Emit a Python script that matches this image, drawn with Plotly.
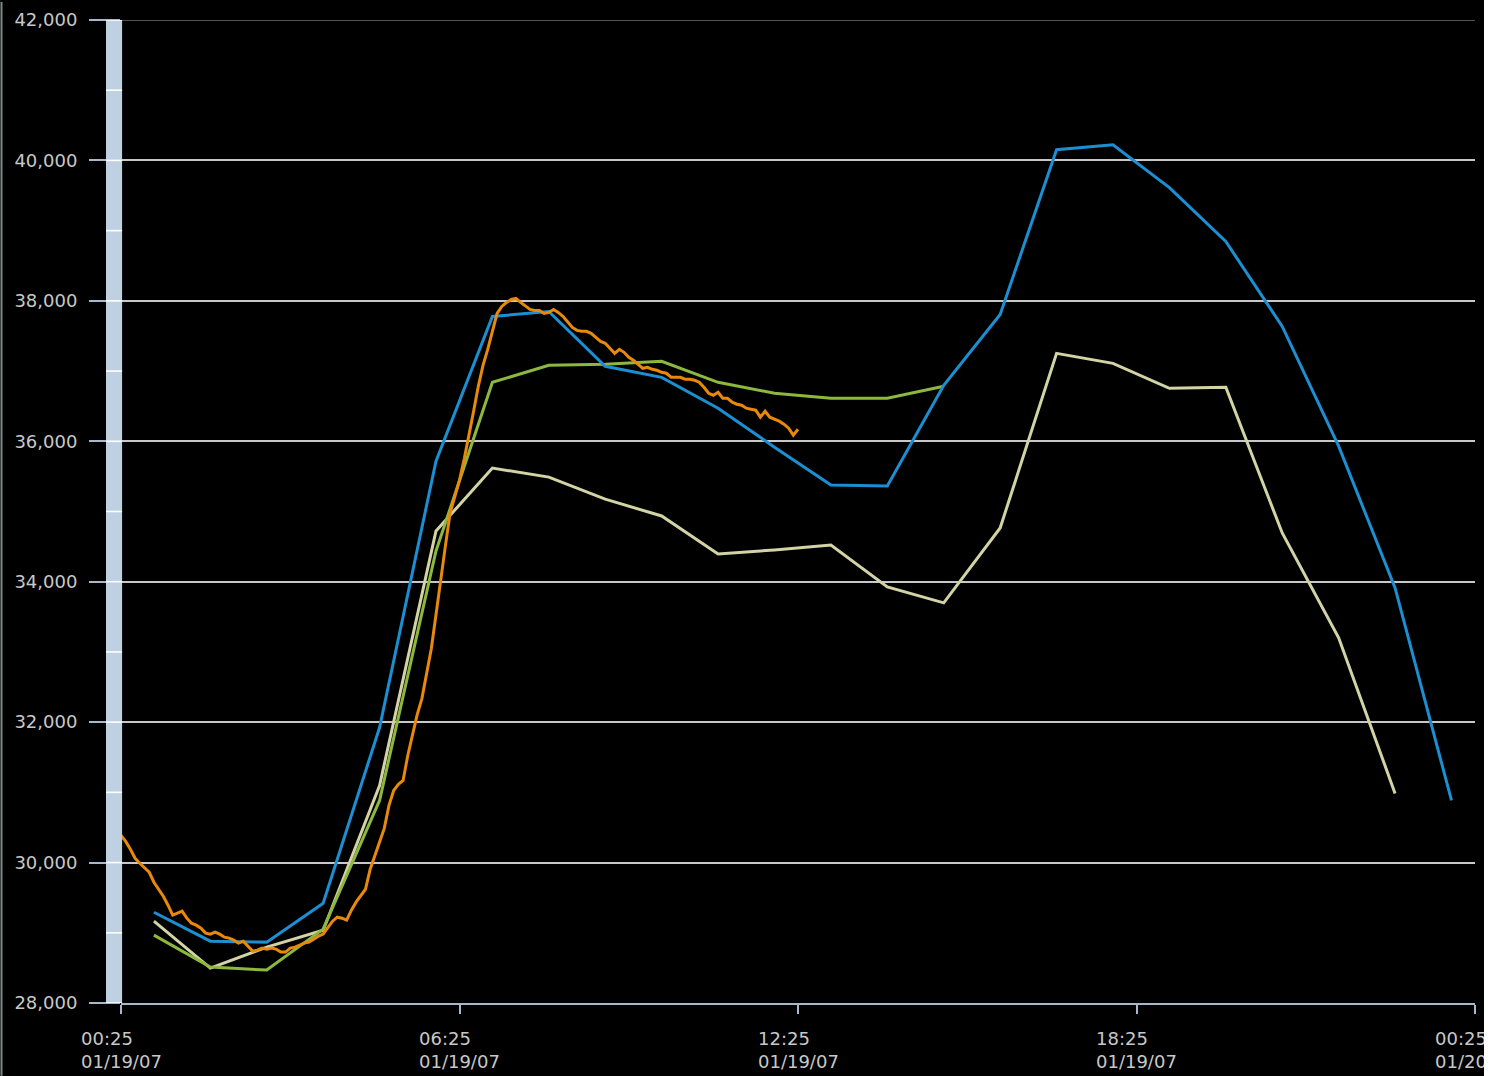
import plotly.graph_objects as go
import pandas as pd

# ---- data ----
blue_vals = [29293, 28881, 28867, 29421, 31923, 35718, 37778, 37849, 37068, 36911,
             36471, 35916, 35377, 35362, 36798, 37807, 40152, 40223, 39612, 38845,
             37636, 35930, 33912, 30885]
beige_vals = [29165, 28497, 28796, 29037, 31098, 34722, 35618, 35490, 35177, 34936,
              34396, 34453, 34523, 33927, 33699, 34765, 37252, 37110, 36755, 36769,
              34694, 33202, 30985]
green_vals = [28966, 28512, 28469, 29052, 30885, 34438, 36840, 37082, 37096, 37139,
              36840, 36684, 36613, 36613, 36783]
orange_vals = [30388, 30302, 30189, 30061, 29990, 29919, 29862, 29720, 29620, 29521,
               29393, 29251, 29279, 29308, 29208, 29137, 29109, 29066, 28995, 28981,
               29009, 28981, 28938, 28924, 28895, 28853, 28880, 28810, 28739, 28753,
               28782, 28767, 28782, 28767, 28725, 28725, 28782, 28796, 28824, 28853,
               28867, 28910, 28952, 28981, 29066, 29165, 29222, 29208, 29180, 29322,
               29436, 29535, 29620, 29905, 30089, 30274, 30487, 30814, 31027, 31113,
               31169, 31525, 31838, 32108, 32335, 32690, 33046, 33529, 34041, 34510,
               34979, 35220, 35448, 35746, 36073, 36428, 36784, 37082, 37310, 37565,
               37821, 37921, 37978, 38020, 38034, 37978, 37921, 37878, 37864, 37864,
               37821, 37835, 37878, 37835, 37779, 37693, 37622, 37580, 37566, 37566,
               37537, 37480, 37423, 37395, 37324, 37253, 37310, 37267, 37196, 37153,
               37096, 37039, 37054, 37025, 37011, 36983, 36969, 36912, 36912, 36912,
               36883, 36883, 36869, 36841, 36769, 36684, 36656, 36698, 36613, 36613,
               36556, 36528, 36514, 36471, 36457, 36443, 36343, 36428, 36343, 36315,
               36286, 36244, 36187, 36087, 36172]

hourly_start = "2007-01-19 01:00"
orange_start = "2007-01-19 00:25"
x_range = ["2007-01-19 00:25", "2007-01-20 00:25"]
x_tickvals = ["2007-01-19 00:25", "2007-01-19 06:25", "2007-01-19 12:25",
              "2007-01-19 18:25", "2007-01-20 00:25"]
x_ticktext = ["00:25<br>01/19/07", "06:25<br>01/19/07", "12:25<br>01/19/07",
              "18:25<br>01/19/07", "00:25<br>01/20/07"]
y_range = [28000, 42000]
y_major = list(range(28000, 42001, 2000))
y_minor = list(range(28000, 42001, 1000))

W, H = 1484, 1076
ML, MR, MT, MB = 121, 9, 18, 73
PW, PH = W - ML - MR, H - MT - MB
LW = 3

fig = go.Figure()

def hourly(n):
    return pd.date_range(hourly_start, periods=n, freq="h")

fig.add_trace(go.Scatter(x=hourly(len(beige_vals)), y=beige_vals, mode="lines",
                         line=dict(color="#d3d3a6", width=LW), showlegend=False))
fig.add_trace(go.Scatter(x=hourly(len(green_vals)), y=green_vals, mode="lines",
                         line=dict(color="#8db83e", width=LW), showlegend=False))
fig.add_trace(go.Scatter(x=hourly(len(blue_vals)), y=blue_vals, mode="lines",
                         line=dict(color="#1b8fd2", width=LW), showlegend=False))
fig.add_trace(go.Scatter(x=pd.date_range(orange_start, periods=len(orange_vals), freq="5min"),
                         y=orange_vals, mode="lines",
                         line=dict(color="#e8890a", width=LW), showlegend=False))

shapes = []
# light blue band at the left of the plot
shapes.append(dict(type="rect", xref="paper", yref="y", x0=-15 / PW, x1=0.0008,
                   y0=y_range[0], y1=y_range[1], fillcolor="#bed0e2",
                   line=dict(width=0), layer="above"))
for v in y_minor:
    shapes.append(dict(type="line", xref="paper", yref="y", x0=-15 / PW, x1=0.0008,
                       y0=v, y1=v, line=dict(color="#ffffff", width=1.6), layer="above"))
# darker top grid line
shapes.append(dict(type="line", xref="paper", yref="y", x0=0.0008, x1=1,
                   y0=y_range[1], y1=y_range[1], line=dict(color="#6e6e6e", width=1.6),
                   layer="below"))
# left frame line
shapes.append(dict(type="line", xref="paper", yref="paper", x0=-(ML - 1.5) / PW,
                   x1=-(ML - 1.5) / PW, y0=-MB / PH, y1=1 + MT / PH,
                   line=dict(color="#7d8888", width=2)))

annotations = []
for tv, tt in zip(x_tickvals, x_ticktext):
    annotations.append(dict(x=tv, xref="x", y=-23 / PH, yref="paper", text=tt,
                            showarrow=False, xanchor="center", yanchor="top",
                            align="left",
                            font=dict(family="DejaVu Sans", size=18, color="#c8c8c8")))

fig.update_layout(
    width=W, height=H,
    margin=dict(l=ML, r=MR, t=MT, b=MB, pad=0),
    paper_bgcolor="#000000", plot_bgcolor="#000000",
    shapes=shapes, annotations=annotations,
    xaxis=dict(type="date", range=x_range, tickvals=x_tickvals,
               showticklabels=False, showgrid=False, zeroline=False,
               showline=True, linecolor="#a8b8cc", linewidth=2,
               ticks="outside", ticklen=9, tickwidth=2, tickcolor="#a8b8cc"),
    yaxis=dict(range=y_range, tickvals=y_major, tickformat=",d",
               showgrid=True, gridcolor="#c8c8c8", gridwidth=1.6, zeroline=False,
               showline=False, ticks="outside", ticklen=31, tickwidth=2,
               tickcolor="#a8b8cc", ticklabelstandoff=8,
               tickfont=dict(family="DejaVu Sans", size=18, color="#c8c8c8")),
)

fig.write_html("out.html", config={"displayModeBar": False},
               post_script="document.body.style.margin='0';")
